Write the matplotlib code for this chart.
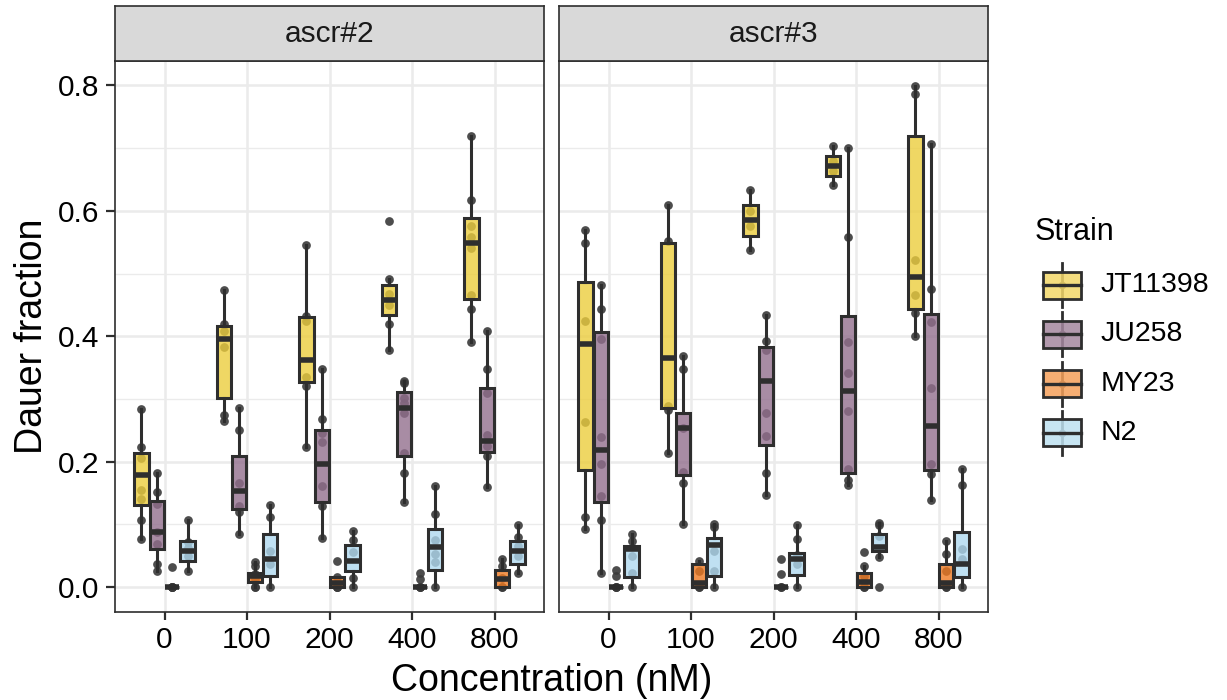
import numpy as np
import matplotlib
matplotlib.use("Agg")
import matplotlib.pyplot as plt
from matplotlib.colors import to_rgba
from matplotlib.patches import Rectangle

plt.rcParams['font.family'] = ['Liberation Sans', 'DejaVu Sans']

# =====================================
# DATA
# =====================================
concentrations = ["0", "100", "200", "400", "800"]
panels = ["ascr#2", "ascr#3"]
strains = ["JT11398", "JU258", "MY23", "N2"]
strain_colors = ["#ECCD3D", "#926F8E", "#EE7A22", "#B0D9EF"]
legend_colors = ["#F3D769", "#A5879F", "#F5A05A", "#BEE1F0"]

# box stats per concentration: (whisker low, q1, median, q3, whisker high)
a2_jt11398_box = [(0.077, 0.130, 0.179, 0.214, 0.284), (0.265, 0.301, 0.395, 0.417, 0.474),
                  (0.224, 0.327, 0.362, 0.430, 0.545), (0.378, 0.434, 0.457, 0.481, 0.491),
                  (0.390, 0.459, 0.549, 0.588, 0.720)]
a2_ju258_box = [(0.026, 0.060, 0.088, 0.137, 0.182), (0.085, 0.124, 0.153, 0.209, 0.286),
                (0.078, 0.135, 0.196, 0.251, 0.348), (0.135, 0.209, 0.285, 0.311, 0.329),
                (0.159, 0.216, 0.233, 0.318, 0.409)]
a2_my23_box = [(0, 0, 0, 0, 0), (0, 0.008, 0.017, 0.022, 0.040),
               (0, 0, 0.007, 0.016, 0.016), (0, 0, 0, 0, 0),
               (0, 0, 0.012, 0.027, 0.044)]
a2_n2_box = [(0.026, 0.041, 0.057, 0.073, 0.107), (0, 0.017, 0.044, 0.084, 0.130),
             (0, 0.026, 0.041, 0.067, 0.090), (0, 0.027, 0.064, 0.092, 0.161),
             (0.023, 0.037, 0.058, 0.073, 0.098)]

a3_jt11398_box = [(0.092, 0.186, 0.387, 0.487, 0.570), (0.213, 0.286, 0.365, 0.549, 0.610),
                  (0.538, 0.560, 0.586, 0.610, 0.634), (0.641, 0.655, 0.672, 0.688, 0.704),
                  (0.400, 0.444, 0.494, 0.720, 0.799)]
a3_ju258_box = [(0.023, 0.135, 0.218, 0.406, 0.481), (0.101, 0.179, 0.253, 0.278, 0.368),
                (0.147, 0.226, 0.328, 0.382, 0.434), (0.163, 0.182, 0.312, 0.433, 0.700),
                (0.138, 0.186, 0.257, 0.436, 0.706)]
a3_my23_box = [(0, 0, 0, 0, 0), (0, 0, 0.006, 0.037, 0.041),
               (0, 0, 0, 0, 0), (0, 0, 0.008, 0.022, 0.033),
               (0, 0, 0.007, 0.036, 0.073)]
a3_n2_box = [(0, 0.016, 0.060, 0.066, 0.084), (0, 0.018, 0.067, 0.078, 0.101),
             (0, 0.019, 0.044, 0.054, 0.098), (0.047, 0.057, 0.064, 0.085, 0.102),
             (0, 0.016, 0.036, 0.087, 0.188)]

# individual replicate values per concentration
a2_jt11398_pts = [[0.284, 0.224, 0.206, 0.155, 0.140, 0.107, 0.077],
                  [0.474, 0.419, 0.409, 0.382, 0.275, 0.265],
                  [0.545, 0.433, 0.425, 0.335, 0.321, 0.224],
                  [0.584, 0.491, 0.467, 0.450, 0.419, 0.378],
                  [0.720, 0.618, 0.576, 0.558, 0.541, 0.465, 0.444, 0.390]]
a2_ju258_pts = [[0.182, 0.152, 0.132, 0.087, 0.068, 0.037, 0.026],
                [0.286, 0.250, 0.166, 0.129, 0.119, 0.085],
                [0.348, 0.268, 0.246, 0.231, 0.161, 0.129, 0.078],
                [0.329, 0.325, 0.302, 0.293, 0.277, 0.214, 0.182, 0.135],
                [0.409, 0.348, 0.309, 0.243, 0.225, 0.209, 0.159]]
a2_my23_pts = [[0.032, 0, 0, 0, 0],
               [0.040, 0.033, 0.020, 0.012, 0, 0],
               [0.041, 0.016, 0, 0, 0],
               [0.022, 0.013, 0, 0, 0],
               [0.044, 0.033, 0.015, 0, 0]]
a2_n2_pts = [[0.107, 0.072, 0.062, 0.050, 0.026],
             [0.130, 0.112, 0.057, 0.037, 0],
             [0.090, 0.075, 0.056, 0.015, 0],
             [0.161, 0.117, 0.075, 0.053, 0.039, 0],
             [0.098, 0.079, 0.065, 0.050, 0.023]]

a3_jt11398_pts = [[0.570, 0.549, 0.424, 0.263, 0.111, 0.092],
                  [0.610, 0.552, 0.288, 0.282, 0.213],
                  [0.634, 0.600, 0.575, 0.538],
                  [0.704, 0.680, 0.664, 0.641],
                  [0.799, 0.787, 0.521, 0.466, 0.437, 0.400]]
a3_ju258_pts = [[0.481, 0.443, 0.395, 0.239, 0.196, 0.145, 0.106, 0.023],
                [0.368, 0.348, 0.254, 0.183, 0.166, 0.101],
                [0.434, 0.393, 0.378, 0.277, 0.240, 0.182, 0.147],
                [0.700, 0.558, 0.390, 0.342, 0.281, 0.188, 0.170, 0.163],
                [0.706, 0.476, 0.423, 0.317, 0.196, 0.180, 0.138]]
a3_my23_pts = [[0.027, 0.018, 0, 0, 0],
               [0.041, 0.026, 0, 0],
               [0.045, 0.020, 0, 0],
               [0.056, 0.033, 0.017, 0, 0],
               [0.073, 0.053, 0.026, 0, 0]]
a3_n2_pts = [[0.084, 0.073, 0.049, 0.022, 0],
             [0.101, 0.095, 0.058, 0.026, 0],
             [0.098, 0.077, 0.051, 0.036, 0],
             [0.102, 0.098, 0.081, 0.047, 0],
             [0.188, 0.163, 0.061, 0.044, 0]]

panel_boxes = [[a2_jt11398_box, a2_ju258_box, a2_my23_box, a2_n2_box],
               [a3_jt11398_box, a3_ju258_box, a3_my23_box, a3_n2_box]]
panel_points = [[a2_jt11398_pts, a2_ju258_pts, a2_my23_pts, a2_n2_pts],
                [a3_jt11398_pts, a3_ju258_pts, a3_my23_pts, a3_n2_pts]]

# =====================================
# FIGURE
# =====================================
W, H = 1227, 700
fig = plt.figure(figsize=(W / 100, H / 100), dpi=100)

edge = "#2E2E2E"
grid_col = "#EBEBEB"
dodge = 0.75 / 4
offsets = [(-1.5 + i) * dodge for i in range(4)]
box_w = 0.175
base_x = np.arange(1, len(concentrations) + 1)

panel_left = [115, 559]
panel_w = 429
panel_top, panel_bottom = 61, 612

for p, name in enumerate(panels):
    ax = fig.add_axes([panel_left[p] / W, (H - panel_bottom) / H,
                       panel_w / W, (panel_bottom - panel_top) / H])
    ax.set_xlim(0.4, 5.6)
    ax.set_ylim(-0.04, 0.839)

    # grid
    for yv in [0, 0.2, 0.4, 0.6, 0.8]:
        ax.axhline(yv, color=grid_col, lw=1.8, zorder=0)
    for yv in [0.1, 0.3, 0.5, 0.7]:
        ax.axhline(yv, color=grid_col, lw=1.0, zorder=0)
    for xv in base_x:
        ax.axvline(xv, color=grid_col, lw=1.8, zorder=0)

    for s in range(len(strains)):
        pos = base_x + offsets[s]
        pts = panel_points[p][s]
        for k in range(len(concentrations)):
            ax.plot(np.full(len(pts[k]), pos[k]), pts[k], "o", ms=6.3,
                    color="#3A3A3A", alpha=0.9, mec="none", zorder=2)

        stats = []
        for lo, q1, med, q3, hi in panel_boxes[p][s]:
            stats.append({"whislo": lo, "q1": q1, "med": med, "q3": q3,
                          "whishi": hi, "fliers": []})
        ax.bxp(stats, positions=pos, widths=box_w, patch_artist=True,
               showfliers=False, showcaps=False, manage_ticks=False,
               boxprops=dict(facecolor=to_rgba(strain_colors[s], 0.8),
                             edgecolor=edge, linewidth=2.2),
               whiskerprops=dict(color=edge, linewidth=2.2),
               medianprops=dict(color=edge, linewidth=4.0, solid_capstyle="butt"),
               zorder=3)

    ax.set_xticks(base_x)
    ax.set_xticklabels(concentrations)
    ax.set_yticks([0, 0.2, 0.4, 0.6, 0.8])
    if p == 0:
        ax.set_yticklabels(["0.0", "0.2", "0.4", "0.6", "0.8"])
        ax.tick_params(axis="y", length=6.5, width=1.6, color=edge,
                       labelsize=21.5, pad=5)
    else:
        ax.tick_params(axis="y", left=False, labelleft=False)
    ax.tick_params(axis="x", length=6, width=1.6, color=edge,
                   labelsize=21.5, pad=4)
    for sp in ax.spines.values():
        sp.set_color(edge)
        sp.set_linewidth(1.2)

    # facet strip
    strip = fig.add_axes([panel_left[p] / W, (H - panel_top) / H,
                          panel_w / W, 55 / H])
    strip.set_facecolor("#D9D9D9")
    strip.set_xticks([])
    strip.set_yticks([])
    for sp in strip.spines.values():
        sp.set_color(edge)
        sp.set_linewidth(1.2)
    strip.text(0.5, 0.5, name, ha="center", va="center", fontsize=21.5,
               color="#1A1A1A", transform=strip.transAxes)

fig.text(551.5 / W, 1 - 681 / H, "Concentration (nM)", ha="center", va="center",
         fontsize=27)
fig.text(32 / W, 1 - 336 / H, "Dauer fraction", ha="center", va="center",
         rotation=90, fontsize=27)

# =====================================
# LEGEND (drawn in pixel coordinates)
# =====================================
leg = fig.add_axes([0, 0, 1, 1])
leg.set_xlim(0, W)
leg.set_ylim(H, 0)
leg.axis("off")
leg.text(1035, 232, "Strain", fontsize=22, va="center", ha="left")
for i, lab in enumerate(strains):
    yc = 285 + 49.3 * i
    xc = 1062
    leg.plot([xc, xc], [yc - 22, yc + 22], color=edge, lw=2.0, zorder=1)
    leg.plot(xc, yc, "o", ms=5.5, color="#3A3A3A", mec="none", zorder=2)
    leg.add_patch(Rectangle((xc - 19, yc - 13.5), 38, 27,
                            facecolor=to_rgba(legend_colors[i], 0.85),
                            edgecolor=edge, lw=2.0, zorder=3))
    leg.plot([xc - 19, xc + 19], [yc, yc], color=edge, lw=2.4, zorder=4)
    leg.text(1101, yc, lab, fontsize=20.5, va="center", ha="left")

fig.savefig("out.png", dpi=100)
